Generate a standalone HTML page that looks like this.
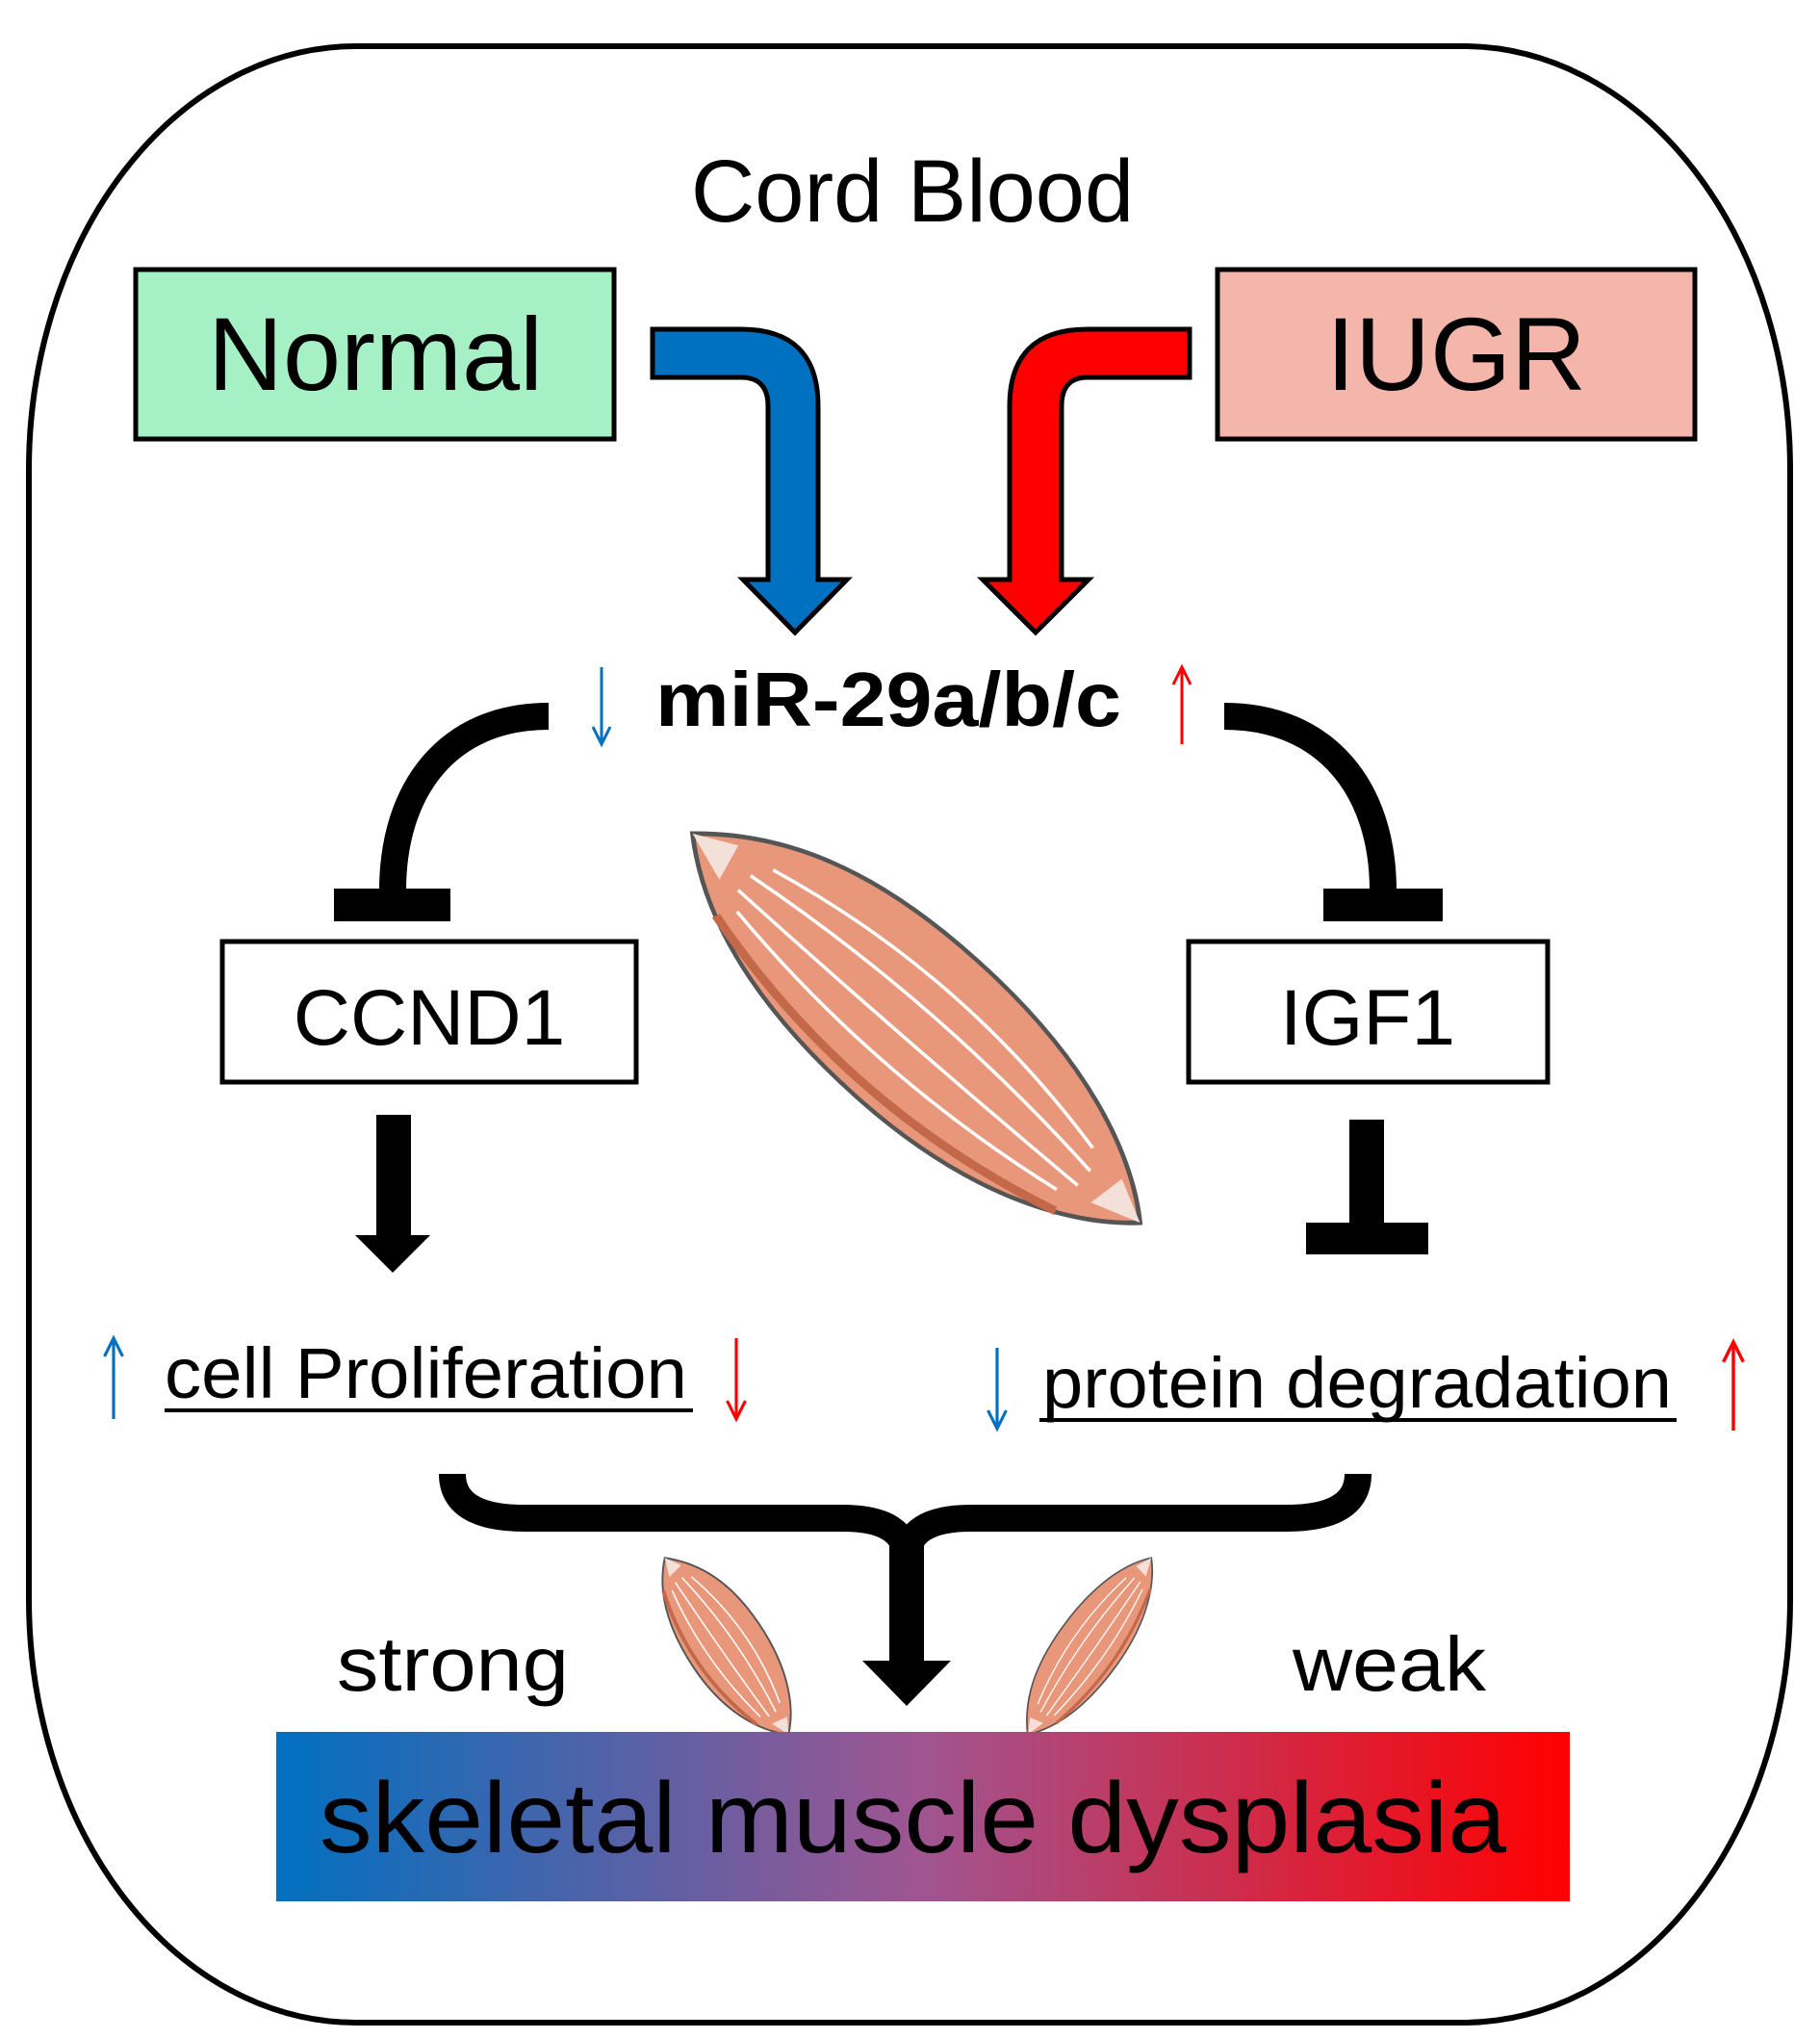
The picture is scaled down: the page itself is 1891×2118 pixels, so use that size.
<!DOCTYPE html>
<html><head><meta charset="utf-8"><style>html,body{margin:0;padding:0;background:#fff}svg{display:block}</style></head>
<body>
<svg width="1891" height="2118" viewBox="0 0 1891 2118" xmlns="http://www.w3.org/2000/svg" font-family="Liberation Sans, Arial, sans-serif">
<defs>
<linearGradient id="g" x1="0" x2="1" y1="0" y2="0"><stop offset="0" stop-color="#0070c0"/><stop offset="0.5" stop-color="#a05591"/><stop offset="1" stop-color="#ff0000"/></linearGradient>
<g id="m">
<path d="M-112,0 C-85,-30 -50,-44 0,-43 C60,-42 95,-20 112,0 C95,20 60,44 0,43 C-55,42 -90,25 -112,0 Z" fill="#e9977a" stroke="#555" stroke-width="2"/>
<path d="M-80,-12 Q0,-34 80,-12 M-85,-3 Q0,-16 85,-3 M-85,6 Q0,8 85,6 M-80,14 Q0,30 80,14" stroke="#fff" stroke-width="1.6" fill="none"/>
<path d="M-85,22 Q0,50 85,22" stroke="#c4684a" stroke-width="4" fill="none"/>
<path d="M-112,0 L-96,-10 L-93,8 Z M112,0 L96,-10 L93,8 Z" fill="#f3e0d8"/>
</g>
<g id="ad"><path d="M0,-40 V38" stroke-width="3"/><path d="M-9,22 L0,40 L9,22" stroke-width="3" fill="none"/></g>
</defs>
<rect x="30" y="48" width="1830" height="2053" rx="340" ry="440" fill="none" stroke="#000" stroke-width="6"/>
<text x="948" y="230" font-size="92" text-anchor="middle">Cord Blood</text>
<rect x="141" y="280" width="497" height="176" fill="#a6f0c6" stroke="#000" stroke-width="5"/>
<text x="390" y="405" font-size="108" text-anchor="middle">Normal</text>
<rect x="1265" y="280" width="496" height="176" fill="#f4b6ab" stroke="#000" stroke-width="5"/>
<text x="1513" y="405" font-size="108" text-anchor="middle">IUGR</text>
<path d="M678,342 L770,342 Q850,342 850,422 L850,602 L880,602 L826,657 L772,602 L798,602 L798,422 Q798,392 770,392 L678,392 Z" fill="#0070c0" stroke="#000" stroke-width="5"/>
<path d="M1236,342 L1130,342 Q1049,342 1049,422 L1049,602 L1021,602 L1076,657 L1131,602 L1103,602 L1103,422 Q1103,392 1130,392 L1236,392 Z" fill="#ff0000" stroke="#000" stroke-width="5"/>
<use href="#ad" transform="translate(625,733)" stroke="#0070c0"/>
<text x="681" y="754" font-size="80" font-weight="bold" textLength="484" lengthAdjust="spacingAndGlyphs">miR-29a/b/c</text>
<use href="#ad" transform="translate(1228,733) rotate(180)" stroke="#ff0000"/>
<path d="M570,744 C465,744 408,820 408,925" fill="none" stroke="#000" stroke-width="28"/>
<rect x="347" y="923" width="121" height="34"/>
<path d="M1272,744 C1378,744 1437,820 1437,925" fill="none" stroke="#000" stroke-width="28"/>
<rect x="1375" y="923" width="124" height="34"/>
<rect x="231" y="978" width="430" height="146" fill="#fff" stroke="#000" stroke-width="5"/>
<text x="446" y="1085" font-size="82" text-anchor="middle">CCND1</text>
<rect x="1235" y="978" width="373" height="146" fill="#fff" stroke="#000" stroke-width="5"/>
<text x="1421" y="1085" font-size="82" text-anchor="middle">IGF1</text>
<use href="#m" transform="translate(952,1068) rotate(41) scale(2.75,2.2)"/>
<rect x="391" y="1158" width="36" height="126"/>
<polygon points="369,1283 447,1283 408,1322"/>
<rect x="1402" y="1163" width="36" height="110"/>
<rect x="1357" y="1270" width="127" height="33"/>
<use href="#ad" transform="translate(118,1432) rotate(180) scale(1.05)" stroke="#0070c0"/>
<text x="171" y="1452" font-size="74" textLength="543" lengthAdjust="spacingAndGlyphs">cell Proliferation</text>
<rect x="171" y="1463" width="549" height="4"/>
<use href="#ad" transform="translate(765,1432) scale(1.05)" stroke="#ff0000"/>
<use href="#ad" transform="translate(1036,1442) scale(1.05)" stroke="#0070c0"/>
<text x="1083" y="1462" font-size="74" textLength="654" lengthAdjust="spacingAndGlyphs">protein degradation</text>
<rect x="1080" y="1473" width="662" height="4"/>
<use href="#ad" transform="translate(1801,1440) rotate(180) scale(1.15)" stroke="#ff0000"/>
<path d="M470,1531 Q470,1577 545,1577 L875,1577 Q942,1577 942,1620 Q942,1577 1009,1577 L1336,1577 Q1411,1577 1411,1531" fill="none" stroke="#000" stroke-width="28"/>
<rect x="924" y="1605" width="36" height="122"/>
<polygon points="896,1725 988,1725 942,1772"/>
<use href="#m" transform="translate(755,1710) rotate(55) scale(1.0,0.95)"/>
<use href="#m" transform="translate(1132,1710) rotate(-55) scale(1.0,0.8)"/>
<text x="350" y="1756" font-size="80" textLength="241" lengthAdjust="spacingAndGlyphs">strong</text>
<text x="1343" y="1756" font-size="80" textLength="201" lengthAdjust="spacingAndGlyphs">weak</text>
<rect x="287" y="1799" width="1344" height="176" fill="url(#g)"/>
<text x="332" y="1924" font-size="104" textLength="1233" lengthAdjust="spacingAndGlyphs">skeletal muscle dysplasia</text>
</svg>
</body></html>
